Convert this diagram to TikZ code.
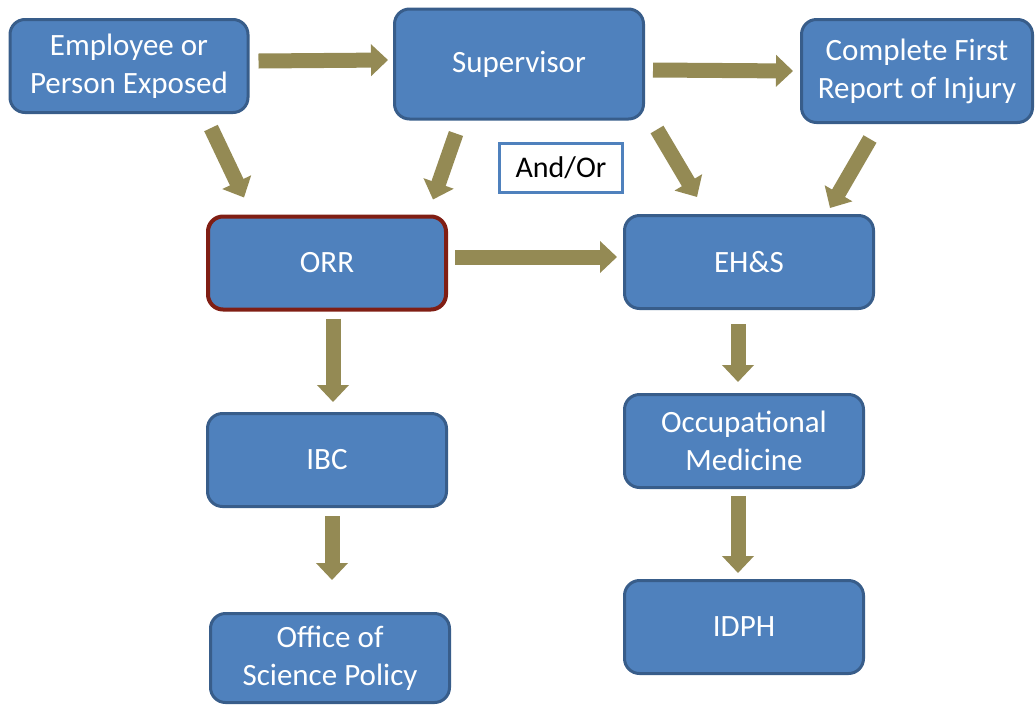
\documentclass[tikz,border=0pt]{standalone}
\usepackage{fontspec}
\setmainfont{Carlito}
\usetikzlibrary{arrows.meta}
\definecolor{boxblue}{RGB}{79,129,189}
\definecolor{boxline}{RGB}{56,93,138}
\definecolor{orrline}{RGB}{128,30,20}
\definecolor{arrowolive}{RGB}{148,138,84}

\begin{document}
\begin{tikzpicture}[x=1pt,y=-1pt]
\tikzstyle{box}=[draw=boxline,fill=boxblue,line width=3pt,rounded corners=15pt,text=white,align=center,inner sep=0pt,minimum width=238pt,minimum height=93pt,font=\fontsize{31}{38}\selectfont];
\tikzstyle{flow}=[draw=arrowolive,line width=15pt,-{Triangle[width=31pt,length=17pt]}];
\useasboundingbox (0,0) rectangle (1035,705);

% top row
\node[box] (emp) at (129,66) {Employee or\\Person Exposed};
\node[box,minimum width=249pt,minimum height=110pt] (sup) at (519,64) {Supervisor};
\node[box,minimum width=231pt,minimum height=103pt] (report) at (917,71) {Complete First\\Report of Injury};
\node[draw=boxblue,line width=3pt,minimum width=123pt,minimum height=49pt,inner sep=0pt,font=\fontsize{30}{36}\selectfont] (andor) at (561,168) {And/Or};

% middle
\node[box,draw=orrline,line width=4pt] (orr) at (327,263) {ORR};
\node[box,minimum width=249pt] (ehs) at (749,262) {EH\&S};

% left column
\node[box,minimum width=239pt] (ibc) at (327,460) {IBC};
\node[box,minimum width=239pt,minimum height=89pt] (osp) at (330,658) {Office of\\Science Policy};

% right column
\node[box,minimum width=239pt] (occmed) at (744,441) {Occupational\\Medicine};
\node[box,minimum width=239pt] (idph) at (744,627) {IDPH};

% arrows
\draw[flow] ([xshift=9pt,yshift=5pt]emp.east) -- ([xshift=-5pt,yshift=4pt]sup.west);
\draw[flow] ([xshift=8pt,yshift=-6pt]sup.east) -- ([xshift=-7pt]report.west);
\draw[flow] ([xshift=82pt,yshift=-14pt]emp.south) -- ([xshift=-83pt,yshift=17pt]orr.north);
\draw[flow] ([xshift=-63pt,yshift=-13pt]sup.south) -- ([xshift=106pt,yshift=15pt]orr.north);
\draw[flow] ([xshift=138pt,yshift=-9pt]sup.south) -- ([xshift=-52pt,yshift=17pt]ehs.north);
\draw[flow] ([xshift=-47pt,yshift=-15pt]report.south) -- ([xshift=81pt,yshift=6pt]ehs.north);
\draw[flow] ([xshift=7pt,yshift=6pt]orr.east) -- ([xshift=-6pt,yshift=5pt]ehs.west);
\draw[flow] ([xshift=6pt,yshift=-7pt]orr.south) -- ([xshift=6pt,yshift=10pt]ibc.north);
\draw[flow] ([xshift=5pt,yshift=-8pt]ibc.south) -- ([xshift=2pt,yshift=32pt]osp.north);
\draw[flow] ([xshift=-11pt,yshift=-14pt]ehs.south) -- ([xshift=-6pt,yshift=11pt]occmed.north);
\draw[flow] ([xshift=-6pt,yshift=-7pt]occmed.south) -- ([xshift=-6pt,yshift=6pt]idph.north);
\end{tikzpicture}
\end{document}
